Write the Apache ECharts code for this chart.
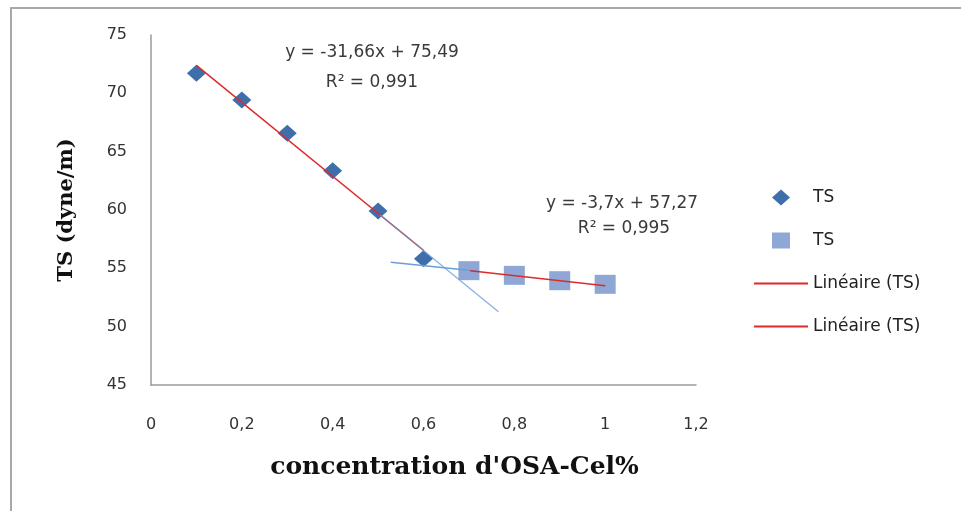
<!DOCTYPE html>
<html>
<head>
<meta charset="utf-8">
<script src="https://cdn.jsdelivr.net/npm/echarts@6/dist/echarts.min.js"></script>
<style>html,body{margin:0;padding:0;background:#fff;}#c{width:961px;height:511px;}</style>
</head>
<body>
<div id="c"></div>
<script>
// Data
const diamondX = [0.1, 0.2, 0.3, 0.4, 0.5, 0.6];
const diamondY = [71.72, 69.43, 66.57, 63.37, 59.91, 55.83];
const squareX = [0.7, 0.8, 0.9, 1.0];
const squareY = [54.80, 54.40, 53.94, 53.63];
// trendline end points
const trend1 = [[0.1, 72.40], [0.6, 56.55]];
const trend2 = [[0.703, 54.80], [1.0, 53.50]];
const tangent1 = [[0.504, 59.57], [0.765, 51.28]];
const tangent2 = [[0.528, 55.52], [0.72, 54.75]];
const xTickLabels = ['0', '0,2', '0,4', '0,6', '0,8', '1', '1,2'];
const yTickLabels = ['45', '50', '55', '60', '65', '70', '75'];
const eq1 = ['y = -31,66x + 75,49', 'R² = 0,991'];
const eq2 = ['y = -3,7x + 57,27', 'R² = 0,995'];

const zip = (xs, ys) => xs.map((x, i) => [x, ys[i]]);
const tickFont = 'DejaVu Sans';
const lineIcon = 'path://M0 0H27V1H0Z';
const diamondIcon = 'path://M9 0L18 8L9 16L0 8Z';
const squareIcon = 'path://M0 0H18V16H0Z';
const eqFont = '17px "DejaVu Sans"';
const chart = echarts.init(document.getElementById('c'), null, {renderer: 'canvas'});
chart.setOption({
  animation: false,
  backgroundColor: '#fff',
  grid: {left: 151, right: 265, top: 35, bottom: 126, containLabel: false},
  xAxis: {
    type: 'value', min: 0, max: 1.2, interval: 0.2,
    axisLine: {show: true, onZero: false, lineStyle: {color: '#9a9a9a', width: 1.5}},
    axisTick: {show: false}, splitLine: {show: false},
    axisLabel: {margin: 32, color: '#333', fontFamily: tickFont, fontSize: 16,
      formatter: (v) => xTickLabels[Math.round(v / 0.2)]},
    name: 'concentration d\'OSA-Cel%', nameLocation: 'middle', nameGap: 70,
    nameTextStyle: {fontFamily: 'DejaVu Serif', fontWeight: 'bold', fontSize: 25, color: '#111', padding: [0, 0, 0, 62]}
  },
  yAxis: {
    type: 'value', min: 45, max: 75, interval: 5,
    axisLine: {show: true, lineStyle: {color: '#9a9a9a', width: 1.5}},
    axisTick: {show: false}, splitLine: {show: false},
    axisLabel: {margin: 24, color: '#333', fontFamily: tickFont, fontSize: 16,
      formatter: (v) => yTickLabels[Math.round((v - 45) / 5)]},
    name: 'TS (dyne/m)', nameLocation: 'middle', nameGap: 74,
    nameTextStyle: {fontFamily: 'DejaVu Serif', fontWeight: 'bold', fontSize: 21, color: '#111'}
  },
  legend: {
    orient: 'vertical', left: 749, top: 184, itemWidth: 54, itemHeight: 16, itemGap: 26,
    symbolKeepAspect: true,
    textStyle: {fontFamily: tickFont, fontSize: 17, color: '#222'},
    data: [
      {name: 'TS', icon: diamondIcon},
      {name: 'TS ', icon: squareIcon},
      {name: 'Linéaire (TS)', icon: lineIcon},
      {name: 'Linéaire (TS) ', icon: lineIcon}
    ]
  },
  series: [
    {type: 'line', name: 'tangent2', data: tangent2, symbol: 'none', silent: true,
      lineStyle: {color: '#6a9ed8', width: 1.5}},
    {type: 'scatter', name: 'TS', data: zip(diamondX, diamondY), symbol: 'diamond', symbolSize: [19, 17],
      itemStyle: {color: '#3f6fab', opacity: 1}},
    {type: 'scatter', name: 'TS ', data: zip(squareX, squareY), symbol: 'rect', symbolSize: [21, 19],
      itemStyle: {color: '#8ea7d4', opacity: 1}},
    {type: 'line', name: 'Linéaire (TS)', data: trend1, symbol: 'none',
      lineStyle: {color: '#dd2a2a', width: 1.5}, itemStyle: {color: '#dd2a2a'}},
    {type: 'line', name: 'Linéaire (TS) ', data: trend2, symbol: 'none',
      lineStyle: {color: '#dd2a2a', width: 1.5}, itemStyle: {color: '#dd2a2a'}},
    {type: 'line', name: 'tangent1', data: tangent1, symbol: 'none', silent: true,
      lineStyle: {color: '#6a9ed8', width: 1.5, opacity: 0.75}}
  ],
  graphic: [
    {type: 'rect', silent: true, z: -1, shape: {x: 11, y: 8, width: 1000, height: 600},
      style: {fill: 'none', stroke: '#a8a8a8', lineWidth: 2}},
    {type: 'text', x: 372, y: 53, style: {text: eq1[0], align: 'center', verticalAlign: 'middle', font: eqFont, fill: '#3a3a3a'}},
    {type: 'text', x: 372, y: 83, style: {text: eq1[1], align: 'center', verticalAlign: 'middle', font: eqFont, fill: '#3a3a3a'}},
    {type: 'text', x: 622, y: 204, style: {text: eq2[0], align: 'center', verticalAlign: 'middle', font: eqFont, fill: '#3a3a3a'}},
    {type: 'text', x: 624, y: 229, style: {text: eq2[1], align: 'center', verticalAlign: 'middle', font: eqFont, fill: '#3a3a3a'}}
  ]
});
</script>
</body>
</html>
